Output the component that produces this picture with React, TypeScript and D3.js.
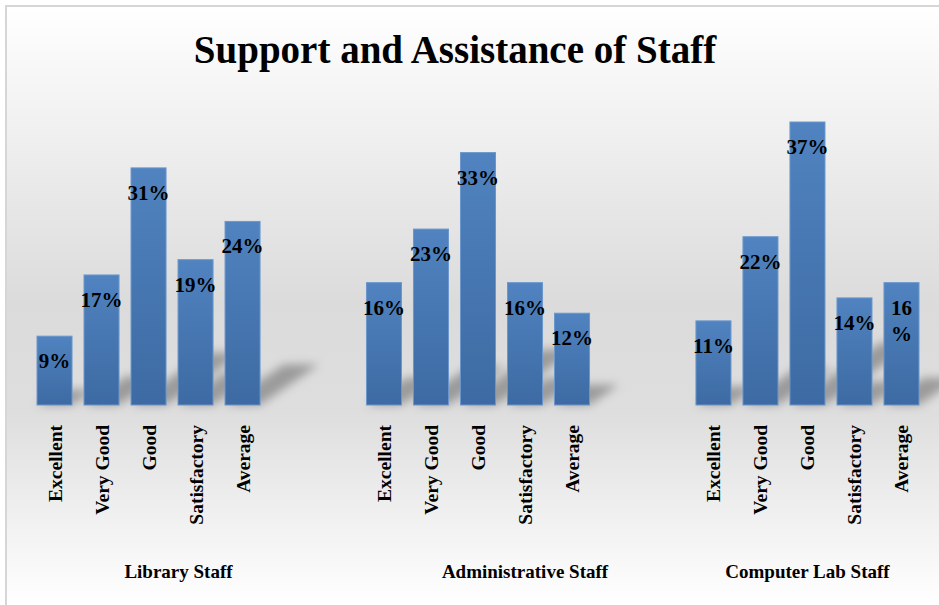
import React, { useRef, useEffect } from "react";
import * as d3 from "d3";

const groups = ["Library Staff", "Administrative Staff", "Computer Lab Staff"];
const categories = ["Excellent", "Very Good", "Good", "Satisfactory", "Average"];
const libraryValues = [9, 17, 31, 19, 24];
const adminValues = [16, 23, 33, 16, 12];
const labValues = [11, 22, 37, 14, 16];
// label that wraps onto two lines in the original
const wrappedLabels = ["Computer Lab Staff|Average"];
// group titles sit a bit right of the bar cluster centre
const groupTitleShift = [30, 47, 0];

const App: React.FC = () => {
  const svgRef = useRef<SVGSVGElement>(null);

  useEffect(() => {
    if (!svgRef.current) return;
    const width = 939;
    const height = 605;
    const baseY = 405;
    const serif = "'Liberation Serif', 'Times New Roman', serif";

    const series = [libraryValues, adminValues, labValues];

    const svg = d3.select(svgRef.current).attr("width", width).attr("height", height);
    svg.selectAll("*").remove();

    const defs = svg.append("defs");
    const bg = defs
      .append("linearGradient")
      .attr("id", "bg")
      .attr("x1", 0)
      .attr("y1", 0)
      .attr("x2", 0)
      .attr("y2", 1);
    [
      [0, "#ffffff"],
      [0.18, "#f2f2f2"],
      [0.5, "#dbdbdb"],
      [0.68, "#dedede"],
      [0.85, "#f0f0f0"],
      [1, "#ffffff"],
    ].forEach(([o, c]) => bg.append("stop").attr("offset", o as number).attr("stop-color", c as string));

    const barGrad = defs
      .append("linearGradient")
      .attr("id", "bar")
      .attr("x1", 0)
      .attr("y1", 0)
      .attr("x2", 0)
      .attr("y2", 1);
    barGrad.append("stop").attr("offset", 0).attr("stop-color", "#5083c0");
    barGrad.append("stop").attr("offset", 1).attr("stop-color", "#3d6aa2");

    defs
      .append("filter")
      .attr("id", "blur")
      .attr("x", "-50%")
      .attr("y", "-50%")
      .attr("width", "200%")
      .attr("height", "200%")
      .append("feGaussianBlur")
      .attr("stdDeviation", 5);

    // background + frame
    svg.append("rect").attr("x", 6).attr("y", 6).attr("width", width - 6).attr("height", height - 6).attr("fill", "url(#bg)");
    svg.append("line").attr("x1", 5).attr("x2", width).attr("y1", 6).attr("y2", 6).attr("stroke", "#d6d6d6").attr("stroke-width", 2);
    svg.append("line").attr("x1", 6).attr("x2", 6).attr("y1", 6).attr("y2", height).attr("stroke", "#d6d6d6").attr("stroke-width", 2);

    // title
    svg
      .append("text")
      .attr("x", 455)
      .attr("y", 63)
      .attr("text-anchor", "middle")
      .style("font", `bold 39px ${serif}`)
      .attr("fill", "#000")
      .text("Support and Assistance of Staff");

    const x0 = d3.scaleBand<string>().domain(groups).range([37, 919]).paddingInner(0.323).paddingOuter(0);
    const x1 = d3.scaleBand<string>().domain(categories).range([0, x0.bandwidth()]).paddingInner(0.255).paddingOuter(0);
    const y = d3.scaleLinear().domain([0, 37]).range([baseY, 122]);

    groups.forEach((g, gi) => {
      const values = series[gi];
      const gx = x0(g)!;
      const grp = svg.append("g").attr("transform", `translate(${gx},0)`);
      const rows = categories.map((c, i) => ({ c, v: values[i] }));

      // floor shadows, cast to the upper right
      grp
        .append("g")
        .attr("filter", "url(#blur)")
        .selectAll("path")
        .data(rows)
        .join("path")
        .attr("fill", "#000")
        .attr("fill-opacity", 0.3)
        .attr("d", (d) => {
          const h = baseY - y(d.v);
          const l = x1(d.c)!;
          const r = l + x1.bandwidth();
          const dx = h * 0.32;
          const dy = h * 0.22;
          return `M${l},${baseY} L${r},${baseY} L${r + dx},${baseY - dy} L${l + dx},${baseY - dy} Z`;
        });

      grp
        .append("g")
        .selectAll("rect")
        .data(rows)
        .join("rect")
        .attr("x", (d) => x1(d.c)!)
        .attr("y", (d) => y(d.v))
        .attr("width", x1.bandwidth())
        .attr("height", (d) => baseY - y(d.v))
        .attr("fill", "url(#bar)")
        .attr("stroke", "#6c97cc")
        .attr("stroke-width", 1);

      // value labels
      grp
        .append("g")
        .selectAll("text")
        .data(rows)
        .join("text")
        .attr("text-anchor", "middle")
        .style("font", `bold 21px ${serif}`)
        .attr("fill", "#000")
        .each(function (d) {
          const t = d3.select(this);
          const cx = x1(d.c)! + x1.bandwidth() / 2;
          const label = `${d.v}%`;
          const lines = wrappedLabels.includes(`${g}|${d.c}`) ? [`${d.v}`, "%"] : [label];
          lines.forEach((line, i) => {
            t.append("tspan")
              .attr("x", cx)
              .attr("y", y(d.v) + 32 + i * 26)
              .text(line);
          });
        });

      // category labels, rotated
      grp
        .append("g")
        .selectAll("text")
        .data(rows)
        .join("text")
        .attr("text-anchor", "end")
        .style("font", `bold 19.5px ${serif}`)
        .attr("fill", "#000")
        .attr("transform", (d) => `translate(${x1(d.c)! + x1.bandwidth() / 2 + 7},425) rotate(-90)`)
        .text((d) => d.c);

      grp
        .append("text")
        .attr("x", x0.bandwidth() / 2 + groupTitleShift[gi])
        .attr("y", 578)
        .attr("text-anchor", "middle")
        .style("font", `bold 19px ${serif}`)
        .attr("fill", "#000")
        .text(g);
    });

    return () => {
      svg.selectAll("*").remove();
    };
  }, []);

  return (
    <div style={{ position: "absolute", left: 0, top: 0 }}>
      <svg ref={svgRef} style={{ display: "block" }}></svg>
    </div>
  );
};

export default App;
